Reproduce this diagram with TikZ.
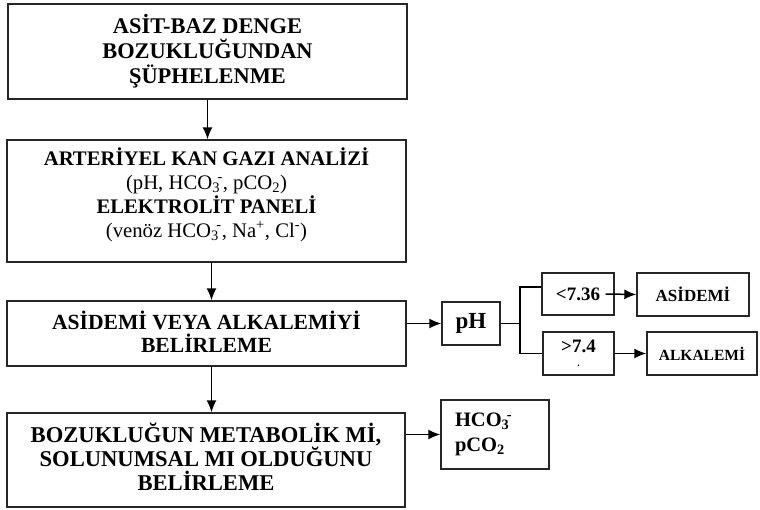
\documentclass[tikz,border=0pt]{standalone}
\usepackage{fontspec}
\setmainfont{Liberation Serif}
\usetikzlibrary{arrows.meta}
\newcommand{\chemion}[2]{\textsubscript{#1}\kern-0.12em\textsuperscript{#2}}

\tikzset{
    flowbox/.style={draw=black!85,line width=1.4pt,inner sep=0pt,align=center,font=\bfseries},
    flowarrow/.style={line width=1.5pt,-{Latex[length=12pt,width=10pt]}},
    branchline/.style={line width=1.5pt}
}

\begin{document}
\begin{tikzpicture}[x=1pt,y=-1pt]
    \useasboundingbox (0,0) rectangle (760,509);
    \node[flowbox,minimum width=399pt,minimum height=95pt,font=\fontsize{22.4}{25}\selectfont\bfseries] (suspect) at (207.5,51.5) {ASİT-BAZ DENGE\\BOZUKLUĞUNDAN\\ŞÜPHELENME};
    \node[flowbox,minimum width=399pt,minimum height=122pt,text depth=17pt,font=\fontsize{20.7}{23.8}\selectfont] (analysis) at (206.5,201) {\textbf{ARTERİYEL KAN GAZI ANALİZİ}\\(pH, HCO\chemion{3}{-}, pCO\textsubscript{2})\\\textbf{ELEKTROLİT PANELİ}\\(venöz HCO\chemion{3}{-}, Na\textsuperscript{+}, Cl\textsuperscript{-})};
    \node[flowbox,minimum width=399pt,minimum height=65pt,text depth=4pt,font=\fontsize{21.6}{23}\selectfont\bfseries] (acidalk) at (206.5,333.5) {ASİDEMİ VEYA ALKALEMİYİ\\BELİRLEME};
    \node[flowbox,minimum width=398pt,minimum height=94pt,text depth=6pt,font=\fontsize{22.6}{24}\selectfont\bfseries] (metresp) at (206,460) {BOZUKLUĞUN METABOLİK Mİ,\\SOLUNUMSAL MI OLDUĞUNU\\BELİRLEME};
    \node[flowbox,minimum width=58pt,minimum height=43pt,font=\fontsize{23}{24}\selectfont\bfseries] (ph) at (471,323.5) {pH};
    \node[flowbox,minimum width=72pt,minimum height=42pt,font=\fontsize{19}{22}\selectfont\bfseries] (low) at (578,294) {<7.36};
    \node[flowbox,minimum width=71pt,minimum height=43pt,font=\fontsize{19}{22}\selectfont\bfseries] (high) at (578.5,353.5) {>7.4\\[-8pt]{\fontsize{10}{10}\selectfont .}};
    \node[flowbox,minimum width=112pt,minimum height=43pt,font=\fontsize{17}{19}\selectfont\bfseries] (acidemia) at (693,294.5) {ASİDEMİ};
    \node[flowbox,minimum width=110pt,minimum height=43pt,font=\fontsize{15.5}{18}\selectfont\bfseries] (alkalemia) at (702,353.5) {ALKALEMİ};
    \node[flowbox,minimum width=108pt,minimum height=69pt,text width=80pt,align=left,font=\fontsize{20.5}{25}\selectfont\bfseries] (ions) at (495,434.5) {HCO\chemion{3}{-}\\pCO\textsubscript{2}};
    % vertical flow
    \draw[flowarrow] (suspect.south) -- (suspect.south |- analysis.north);
    \draw[flowarrow] ([xshift=5pt]analysis.south) -- ([xshift=5pt]analysis.south |- acidalk.north);
    \draw[flowarrow] ([xshift=5pt]acidalk.south) -- ([xshift=5pt]acidalk.south |- metresp.north);
    % side branches
    \draw[flowarrow] (acidalk.east |- ph.west) -- (ph.west);
    \coordinate (fork) at (520,323.5);
    \draw[branchline] (ph.east) -- (fork);
    \draw[branchline] (fork) |- ([yshift=7pt]low.west);
    \draw[branchline] (fork) |- (high.west);
    \draw[flowarrow] ([xshift=-9pt]low.east) -- (acidemia.west);
    \draw[flowarrow] (high.east) -- (alkalemia.west);
    \draw[flowarrow] (metresp.east |- ions.west) -- (ions.west);
\end{tikzpicture}
\end{document}
